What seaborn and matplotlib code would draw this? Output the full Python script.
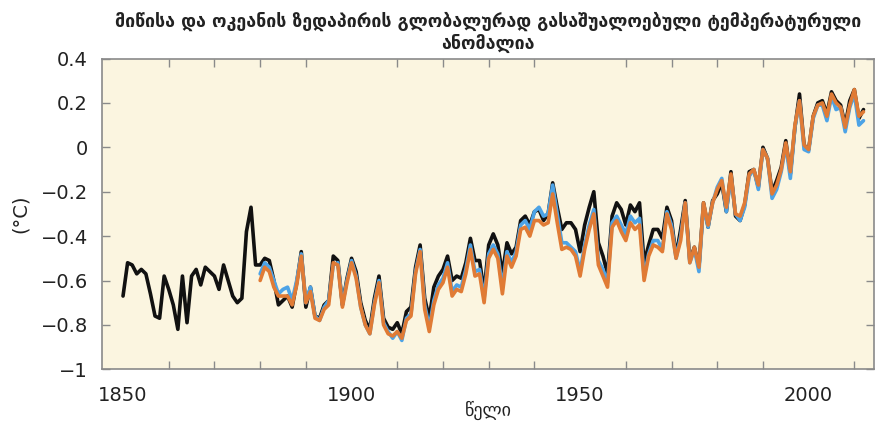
import matplotlib
matplotlib.use("Agg")
import matplotlib.pyplot as plt
import seaborn as sns
import pandas as pd
import numpy as np

# ---------------- data ----------------
title_text = "მიწისა და ოკეანის ზედაპირის გლობალურად გასაშუალოებული ტემპერატურული\nანომალია"
x_label = "წელი"
y_label = "(°C)"

years_black = list(range(1850, 2013))
black_vals = [
    -0.67, -0.52, -0.53, -0.57, -0.55, -0.57, -0.66, -0.76, -0.77, -0.58,
    -0.64, -0.71, -0.82, -0.58, -0.79, -0.58, -0.55, -0.62, -0.54, -0.56,
    -0.58, -0.64, -0.53, -0.60, -0.67, -0.70, -0.68, -0.38, -0.27, -0.53,
    -0.53, -0.50, -0.51, -0.60, -0.71, -0.69, -0.67, -0.72, -0.61, -0.47,
    -0.72, -0.63, -0.76, -0.77, -0.71, -0.69, -0.49, -0.51, -0.71, -0.59,
    -0.50, -0.56, -0.70, -0.78, -0.82, -0.68, -0.58, -0.77, -0.81, -0.82,
    -0.79, -0.84, -0.74, -0.72, -0.54, -0.44, -0.68, -0.77, -0.63, -0.58,
    -0.55, -0.49, -0.60, -0.58, -0.59, -0.52, -0.41, -0.51, -0.51, -0.65,
    -0.44, -0.39, -0.44, -0.57, -0.43, -0.48, -0.45, -0.33, -0.31, -0.35,
    -0.29, -0.28, -0.33, -0.30, -0.16, -0.27, -0.37, -0.34, -0.34, -0.37,
    -0.47, -0.35, -0.27, -0.20, -0.43, -0.49, -0.57, -0.31, -0.25, -0.28,
    -0.35, -0.26, -0.29, -0.25, -0.52, -0.44, -0.37, -0.37, -0.41, -0.27,
    -0.33, -0.49, -0.37, -0.24, -0.51, -0.45, -0.54, -0.25, -0.36, -0.24,
    -0.21, -0.16, -0.29, -0.11, -0.31, -0.33, -0.26, -0.11, -0.10, -0.18,
    0.00, -0.05, -0.20, -0.15, -0.09, 0.03, -0.12, 0.09, 0.24, 0.01,
    -0.01, 0.14, 0.20, 0.21, 0.15, 0.25, 0.21, 0.19, 0.10, 0.21,
    0.26, 0.13, 0.17,
]

years_short = list(range(1880, 2013))
blue_vals = [
    -0.57, -0.52, -0.54, -0.60, -0.66, -0.64, -0.63, -0.69, -0.60, -0.48,
    -0.70, -0.63, -0.76, -0.78, -0.72, -0.69, -0.53, -0.52, -0.71, -0.60,
    -0.51, -0.58, -0.72, -0.80, -0.84, -0.70, -0.60, -0.79, -0.83, -0.86,
    -0.83, -0.87, -0.77, -0.75, -0.56, -0.46, -0.71, -0.81, -0.69, -0.62,
    -0.59, -0.52, -0.65, -0.62, -0.63, -0.55, -0.44, -0.56, -0.55, -0.68,
    -0.48, -0.44, -0.48, -0.63, -0.47, -0.52, -0.47, -0.35, -0.33, -0.37,
    -0.29, -0.27, -0.31, -0.30, -0.17, -0.30, -0.43, -0.43, -0.45, -0.47,
    -0.56, -0.44, -0.35, -0.28, -0.51, -0.55, -0.61, -0.34, -0.31, -0.35,
    -0.39, -0.31, -0.34, -0.32, -0.58, -0.48, -0.42, -0.42, -0.46, -0.29,
    -0.35, -0.50, -0.40, -0.25, -0.52, -0.46, -0.56, -0.26, -0.36, -0.25,
    -0.18, -0.14, -0.29, -0.13, -0.30, -0.33, -0.27, -0.13, -0.10, -0.19,
    -0.01, -0.05, -0.23, -0.19, -0.11, 0.01, -0.14, 0.09, 0.21, -0.01,
    -0.02, 0.13, 0.19, 0.19, 0.12, 0.23, 0.17, 0.18, 0.07, 0.18,
    0.24, 0.10, 0.12,
]
orange_vals = [
    -0.60, -0.54, -0.56, -0.63, -0.67, -0.67, -0.67, -0.71, -0.62, -0.49,
    -0.70, -0.65, -0.77, -0.78, -0.73, -0.71, -0.52, -0.53, -0.72, -0.61,
    -0.52, -0.59, -0.72, -0.80, -0.84, -0.71, -0.61, -0.80, -0.84, -0.85,
    -0.83, -0.86, -0.78, -0.76, -0.57, -0.47, -0.73, -0.83, -0.71, -0.64,
    -0.61, -0.54, -0.67, -0.64, -0.65, -0.57, -0.46, -0.58, -0.57, -0.70,
    -0.50, -0.46, -0.50, -0.66, -0.49, -0.54, -0.49, -0.37, -0.36, -0.40,
    -0.33, -0.33, -0.35, -0.34, -0.21, -0.34, -0.46, -0.45, -0.46, -0.49,
    -0.58, -0.46, -0.37, -0.30, -0.53, -0.58, -0.63, -0.36, -0.33, -0.38,
    -0.42, -0.34, -0.37, -0.35, -0.60, -0.49, -0.44, -0.45, -0.47, -0.30,
    -0.37, -0.50, -0.42, -0.25, -0.52, -0.45, -0.54, -0.25, -0.35, -0.25,
    -0.19, -0.15, -0.27, -0.12, -0.30, -0.31, -0.25, -0.12, -0.10, -0.17,
    -0.01, -0.05, -0.21, -0.17, -0.10, 0.02, -0.11, 0.10, 0.21, 0.01,
    -0.01, 0.14, 0.19, 0.20, 0.14, 0.24, 0.20, 0.18, 0.09, 0.19,
    0.26, 0.14, 0.16,
]

x_major = [1850, 1900, 1950, 2000]
x_minor = list(range(1850, 2011, 10))
y_ticks = [0.4, 0.2, 0, -0.2, -0.4, -0.6, -0.8, -1]
y_ticklabels = ["0.4", "0.2", "0", "\u22120.2", "\u22120.4", "\u22120.6", "\u22120.8", "\u22121"]

# ---------------- plot ----------------
sns.set_theme(style="ticks")
plt.rcParams["font.family"] = ["DejaVu Sans"]

fig = plt.figure(figsize=(8.8, 4.24), dpi=100)
ax = fig.add_axes([102 / 880, (424 - 369.3) / 424, (874 - 102) / 880, 310.8 / 424])
ax.set_facecolor("#fbf5e0")

df_black = pd.DataFrame({"year": years_black, "value": black_vals})
df_blue = pd.DataFrame({"year": years_short, "value": blue_vals})
df_orange = pd.DataFrame({"year": years_short, "value": orange_vals})

lw = 2.6
sns.lineplot(data=df_black, x="year", y="value", ax=ax, color="#111111", linewidth=lw)
sns.lineplot(data=df_blue, x="year", y="value", ax=ax, color="#4da3e6", linewidth=lw)
sns.lineplot(data=df_orange, x="year", y="value", ax=ax, color="#e07b35", linewidth=lw)

ax.set_xlim(1845.4, 2014.3)
ax.set_ylim(-1, 0.4)
ax.set_xticks(x_major)
ax.set_xticks(x_minor, minor=True)
ax.set_yticks(y_ticks)
ax.set_yticklabels(y_ticklabels)

for s in ax.spines.values():
    s.set_color("#8a8a8a")
    s.set_linewidth(1.2)
    s.set_visible(True)

ax.tick_params(axis="both", which="both", direction="in", top=True, right=True,
               color="#8a8a8a", width=1.0)
ax.tick_params(axis="x", which="major", length=0, labelsize=14, pad=12, labelcolor="#222222")
ax.tick_params(axis="x", which="minor", length=6)
ax.tick_params(axis="y", which="major", length=6, labelsize=14, pad=10, labelcolor="#222222")

ax.set_xlabel(x_label, fontsize=13, color="#222222", labelpad=-3)
ax.set_ylabel(y_label, fontsize=14, color="#222222", labelpad=8)
ax.set_title(title_text, fontsize=12.8, fontweight="bold", color="#222222",
             linespacing=1.2, pad=7)

fig.savefig("out.png", dpi=100, facecolor="white")
